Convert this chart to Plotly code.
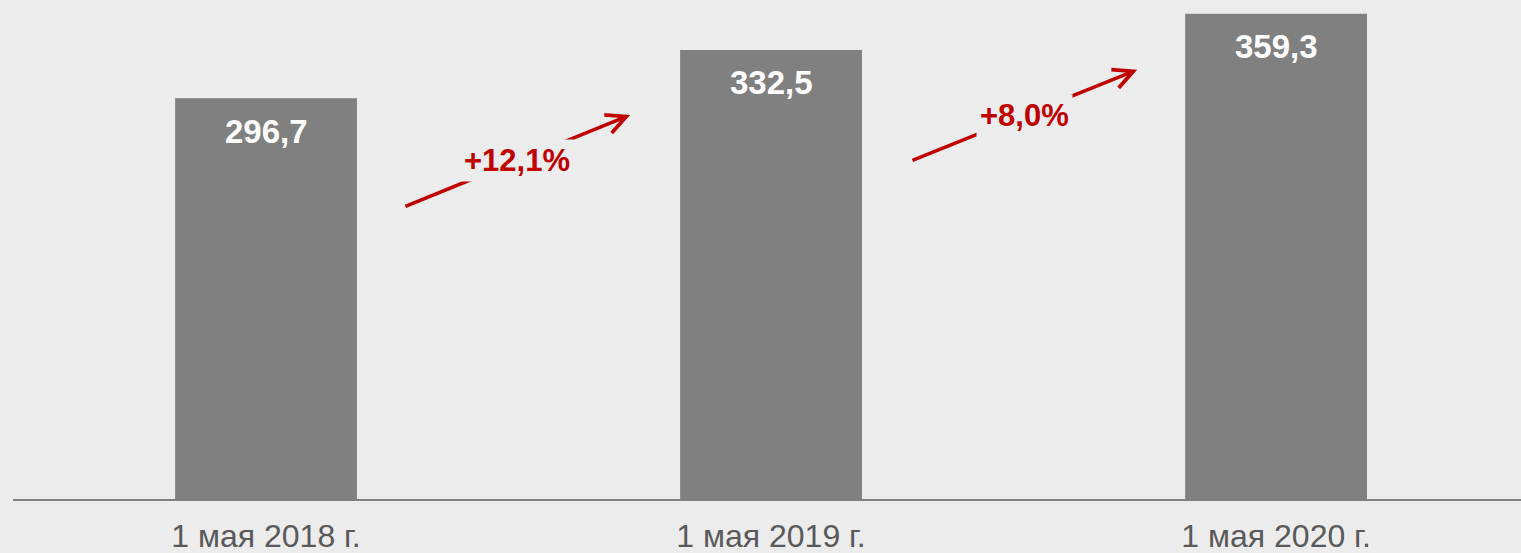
import plotly.graph_objects as go

# ---- data ----
categories = ["1 мая 2018 г.", "1 мая 2019 г.", "1 мая 2020 г."]
values = [296.7, 332.5, 359.3]
growth_labels = ["+12,1%", "+8,0%"]
# arrow tail / tip positions (category index offset, value units)
arrow_tail_x = [0.273, 1.277]
arrow_tail_y = [216.3, 250.3]
arrow_tip_x = [0.721, 1.725]
arrow_tip_y = [284.4, 317.8]

BG = "#ececec"
BAR = "#808080"
RED = "#c00000"

fig = go.Figure()
fig.add_trace(go.Bar(
    x=list(range(len(categories))), y=values,
    width=0.36,
    marker=dict(color=BAR, line=dict(width=0)),
    hoverinfo="skip",
))

annotations = []
# bar value labels
for i, v in enumerate(values):
    annotations.append(dict(
        x=i, y=v, xref="x", yref="y",
        text=f"{v:.1f}".replace(".", ","),
        showarrow=False, yanchor="middle", yshift=-33,
        font=dict(family="Liberation Sans", size=33, color="white", weight="bold"),
    ))
# arrows
for tx, ty, hx, hy in zip(arrow_tail_x, arrow_tail_y, arrow_tip_x, arrow_tip_y):
    annotations.append(dict(
        x=hx, y=hy, ax=tx, ay=ty, xref="x", yref="y", axref="x", ayref="y",
        text="", showarrow=True, arrowhead=5, arrowsize=1.1, arrowwidth=3.5,
        arrowcolor=RED, standoff=0, startstandoff=0,
    ))
# growth labels (with background to break the arrow)
for k, lab in enumerate(growth_labels):
    annotations.append(dict(
        x=(arrow_tail_x[k] + arrow_tip_x[k]) / 2,
        y=(arrow_tail_y[k] + arrow_tip_y[k]) / 2,
        xref="x", yref="y", text=lab, showarrow=False,
        bgcolor=BG, borderpad=3,
        font=dict(family="Liberation Sans", size=31, color=RED, weight="bold"),
    ))

fig.update_layout(
    width=1521, height=553,
    margin=dict(l=13, r=0, t=0, b=54, autoexpand=False),
    paper_bgcolor=BG, plot_bgcolor=BG,
    showlegend=False,
    annotations=annotations,
    xaxis=dict(
        tickmode="array", tickvals=list(range(len(categories))), ticktext=categories,
        range=[-0.501, 2.485], showgrid=False, zeroline=False,
        showline=True, linecolor="#808080", linewidth=2,
        ticks="", ticklabelstandoff=8, automargin=False,
        tickfont=dict(family="Liberation Sans", size=32, color="#595959"),
    ),
    yaxis=dict(range=[0, 369.5], visible=False, showgrid=False, zeroline=False,
               automargin=False),
)

fig.write_html(
    "out.html",
    config={"displayModeBar": False},
    post_script="document.body.style.margin='0px';document.body.style.background='#ececec';",
)
